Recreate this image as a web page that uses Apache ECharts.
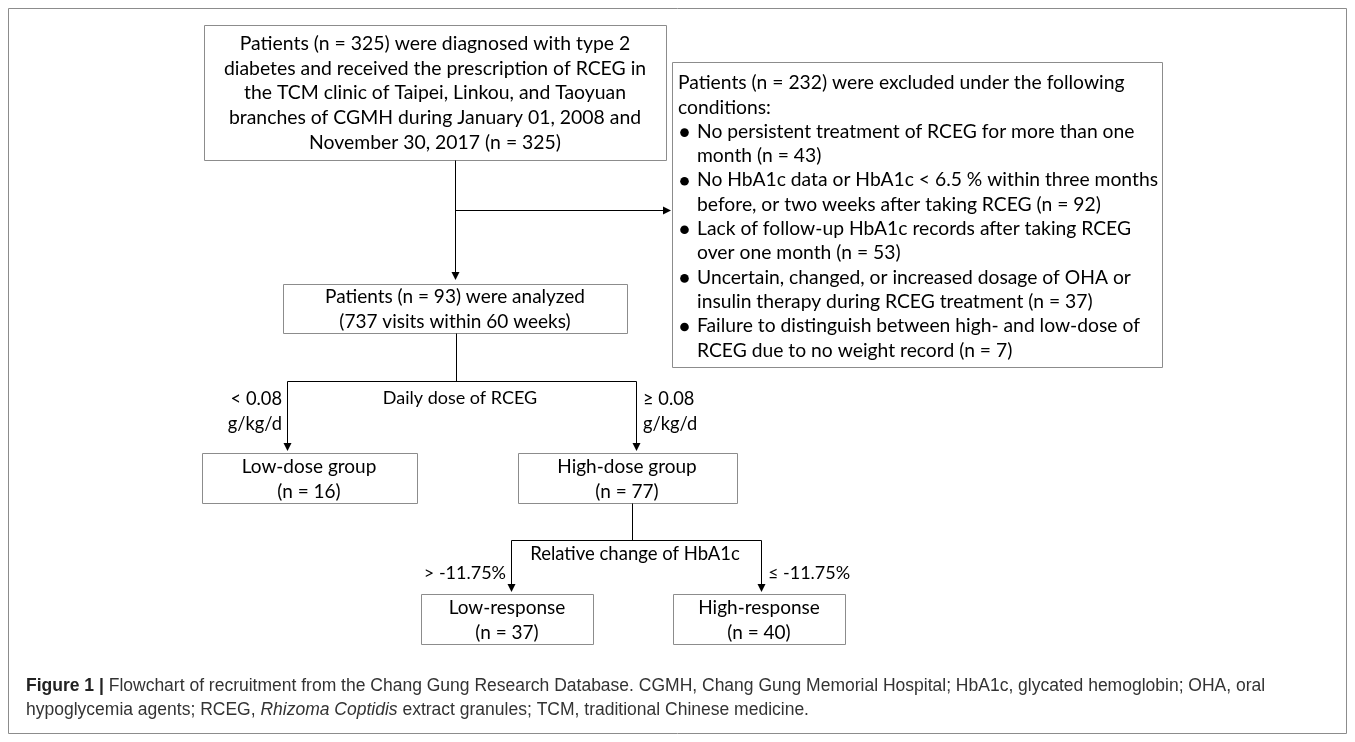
<!DOCTYPE html>
<html>
<head>
<meta charset="utf-8">
<script src="https://cdn.jsdelivr.net/npm/echarts@6/dist/echarts.min.js"></script>
<style>
html, body { margin: 0; padding: 0; background: #fff; }
#main { width: 1355px; height: 742px; }
</style>
</head>
<body>
<div id="main"></div>
<script>
// counts
var screenedCount = 325;
var excludedCount = 232;
var analyzedCount = 93;
var analyzedVisits = 737;
var studyWeeks = 60;

var screenedLines = [
  'Patients (n = ' + screenedCount + ') were diagnosed with type 2',
  'diabetes and received the prescription of RCEG in',
  'the TCM clinic of Taipei, Linkou, and Taoyuan',
  'branches of CGMH during January 01, 2008 and',
  'November 30, 2017 (n = ' + screenedCount + ')'
];

// each reason is wrapped as in the picture, count goes on its last line
var exclusionReasons = [
  ['No persistent treatment of RCEG for more than one', 'month'],
  ['No HbA1c data or HbA1c < 6.5 % within three months', 'before, or two weeks after taking RCEG'],
  ['Lack of follow-up HbA1c records after taking RCEG', 'over one month'],
  ['Uncertain, changed, or increased dosage of OHA or', 'insulin therapy during RCEG treatment'],
  ['Failure to distinguish between high- and low-dose of', 'RCEG due to no weight record']
];
var exclusionCounts = [43, 92, 53, 37, 7];

var doseGroups = ['Low-dose group', 'High-dose group'];
var doseCounts = [16, 77];
var doseCuts = [['< 0.08', 'g/kg/d'], ['\u2265 0.08', 'g/kg/d']];

var responseGroups = ['Low-response', 'High-response'];
var responseCounts = [37, 40];
var responseCuts = ['> -11.75%', '\u2264 -11.75%'];

var captionText = 'Flowchart of recruitment from the Chang Gung Research Database. CGMH, Chang Gung Memorial Hospital; HbA1c, glycated hemoglobin; OHA, oral';

var FONT = 'Lato, "Open Sans", sans-serif';
var CAP_FONT = '"Liberation Sans", Arial, sans-serif';
var elems = [];

function box(x, y, w, h) {
  elems.push({
    type: 'rect',
    shape: { x: x + 0.5, y: y + 0.5, width: w, height: h },
    style: { fill: '#fff', stroke: '#8c8c8c', lineWidth: 1 }
  });
}
function label(x, y, text, align, size, lh) {
  elems.push({
    type: 'text',
    style: {
      x: x, y: y, text: text,
      fontFamily: FONT, fontSize: size || 18,
      lineHeight: lh || 25,
      fill: '#000', align: align || 'center', verticalAlign: 'middle'
    }
  });
}
function line(pts) {
  elems.push({
    type: 'polyline',
    shape: { points: pts.map(function (p) { return [p[0] + 0.5, p[1] + 0.5]; }) },
    style: { stroke: '#000', lineWidth: 1, fill: null }
  });
}
function arrowDown(x, y) {
  elems.push({
    type: 'polygon',
    shape: { points: [[x - 3.5, y - 8], [x + 4.5, y - 8], [x + 0.5, y]] },
    style: { fill: '#000' }
  });
}
function arrowRight(x, y) {
  elems.push({
    type: 'polygon',
    shape: { points: [[x - 8, y - 3.5], [x - 8, y + 4.5], [x, y + 0.5]] },
    style: { fill: '#000' }
  });
}

// outer frame
elems.push({
  type: 'rect',
  shape: { x: 8.5, y: 8.5, width: 1338, height: 725 },
  style: { fill: null, stroke: '#8c8c8c', lineWidth: 1 }
});

// screened box
box(204, 25, 462, 135);
label(435, 93, screenedLines.join('\n'), 'center', 19.4, 24.75);

// trunk + exclusion arrow
line([[455, 160], [455, 277]]);
arrowDown(455, 280);
line([[455, 210], [664, 210]]);
arrowRight(671, 210);

// exclusion box
box(672, 62, 490, 305);
var exLines = ['Patients (n = ' + excludedCount + ') were excluded under the following', 'conditions:'];
exclusionReasons.forEach(function (r, i) {
  var l = r.slice();
  l[l.length - 1] += ' (n = ' + exclusionCounts[i] + ')';
  exLines = exLines.concat(l);
});
var ly = 83;
exLines.forEach(function (t, i) {
  if (i < 2) {
    label(678, ly, t, 'left', 19.3);
  } else {
    var k = i - 2;
    if (k % 2 === 0) {
      elems.push({ type: 'circle', shape: { cx: 684.5, cy: ly + 1, r: 4.3 }, style: { fill: '#000' } });
    }
    label(697, ly, t, 'left', 19.3);
  }
  ly += 24.3;
});

// analyzed box
box(283, 284, 344, 49);
label(455, 309, 'Patients (n = ' + analyzedCount + ') were analyzed\n(' + analyzedVisits + ' visits within ' + studyWeeks + ' weeks)', 'center', 19);

// dose split
line([[456, 333], [456, 381]]);
line([[287, 447], [287, 381], [636, 381], [636, 447]]);
arrowDown(287, 451);
arrowDown(636, 451);
label(460, 398, 'Daily dose of RCEG');
label(282, 412, doseCuts[0].join('\n'), 'right', 18.3);
label(643, 412, doseCuts[1].join('\n'), 'left', 18.3);

box(202, 453, 215, 50);
label(309, 479.5, doseGroups[0] + '\n(n = ' + doseCounts[0] + ')', 'center', 19);
box(518, 453, 219, 50);
label(627, 479.5, doseGroups[1] + '\n(n = ' + doseCounts[1] + ')', 'center', 19);

// response split
line([[632, 503], [632, 540]]);
line([[511, 587], [511, 540], [761, 540], [761, 587]]);
arrowDown(511, 592);
arrowDown(761, 592);
label(635, 554, 'Relative change of HbA1c', 'center', 18.5);
label(506, 573, responseCuts[0], 'right');
label(768, 573, responseCuts[1], 'left');

box(421, 594, 172, 50);
label(507, 620, responseGroups[0] + '\n(n = ' + responseCounts[0] + ')', 'center', 19);
box(673, 594, 172, 50);
label(759, 620, responseGroups[1] + '\n(n = ' + responseCounts[1] + ')', 'center', 19);

// caption
elems.push({
  type: 'text',
  style: {
    x: 26, y: 686,
    text: '{b|Figure 1 |} ' + captionText,
    fontFamily: CAP_FONT, fontSize: 17.5,
    fill: '#333', verticalAlign: 'middle',
    rich: { b: { fontWeight: 'bold', fontFamily: CAP_FONT, fontSize: 17.5, fill: '#222' } }
  }
});
elems.push({
  type: 'text',
  style: {
    x: 26, y: 710,
    text: 'hypoglycemia agents; RCEG, {i|Rhizoma Coptidis} extract granules; TCM, traditional Chinese medicine.',
    fontFamily: CAP_FONT, fontSize: 17.5,
    fill: '#333', verticalAlign: 'middle',
    rich: { i: { fontStyle: 'italic', fontFamily: CAP_FONT, fontSize: 17.5, fill: '#333' } }
  }
});

var chart = echarts.init(document.getElementById('main'));
chart.setOption({
  backgroundColor: '#fff',
  animation: false,
  graphic: { elements: elems }
});
</script>
</body>
</html>
